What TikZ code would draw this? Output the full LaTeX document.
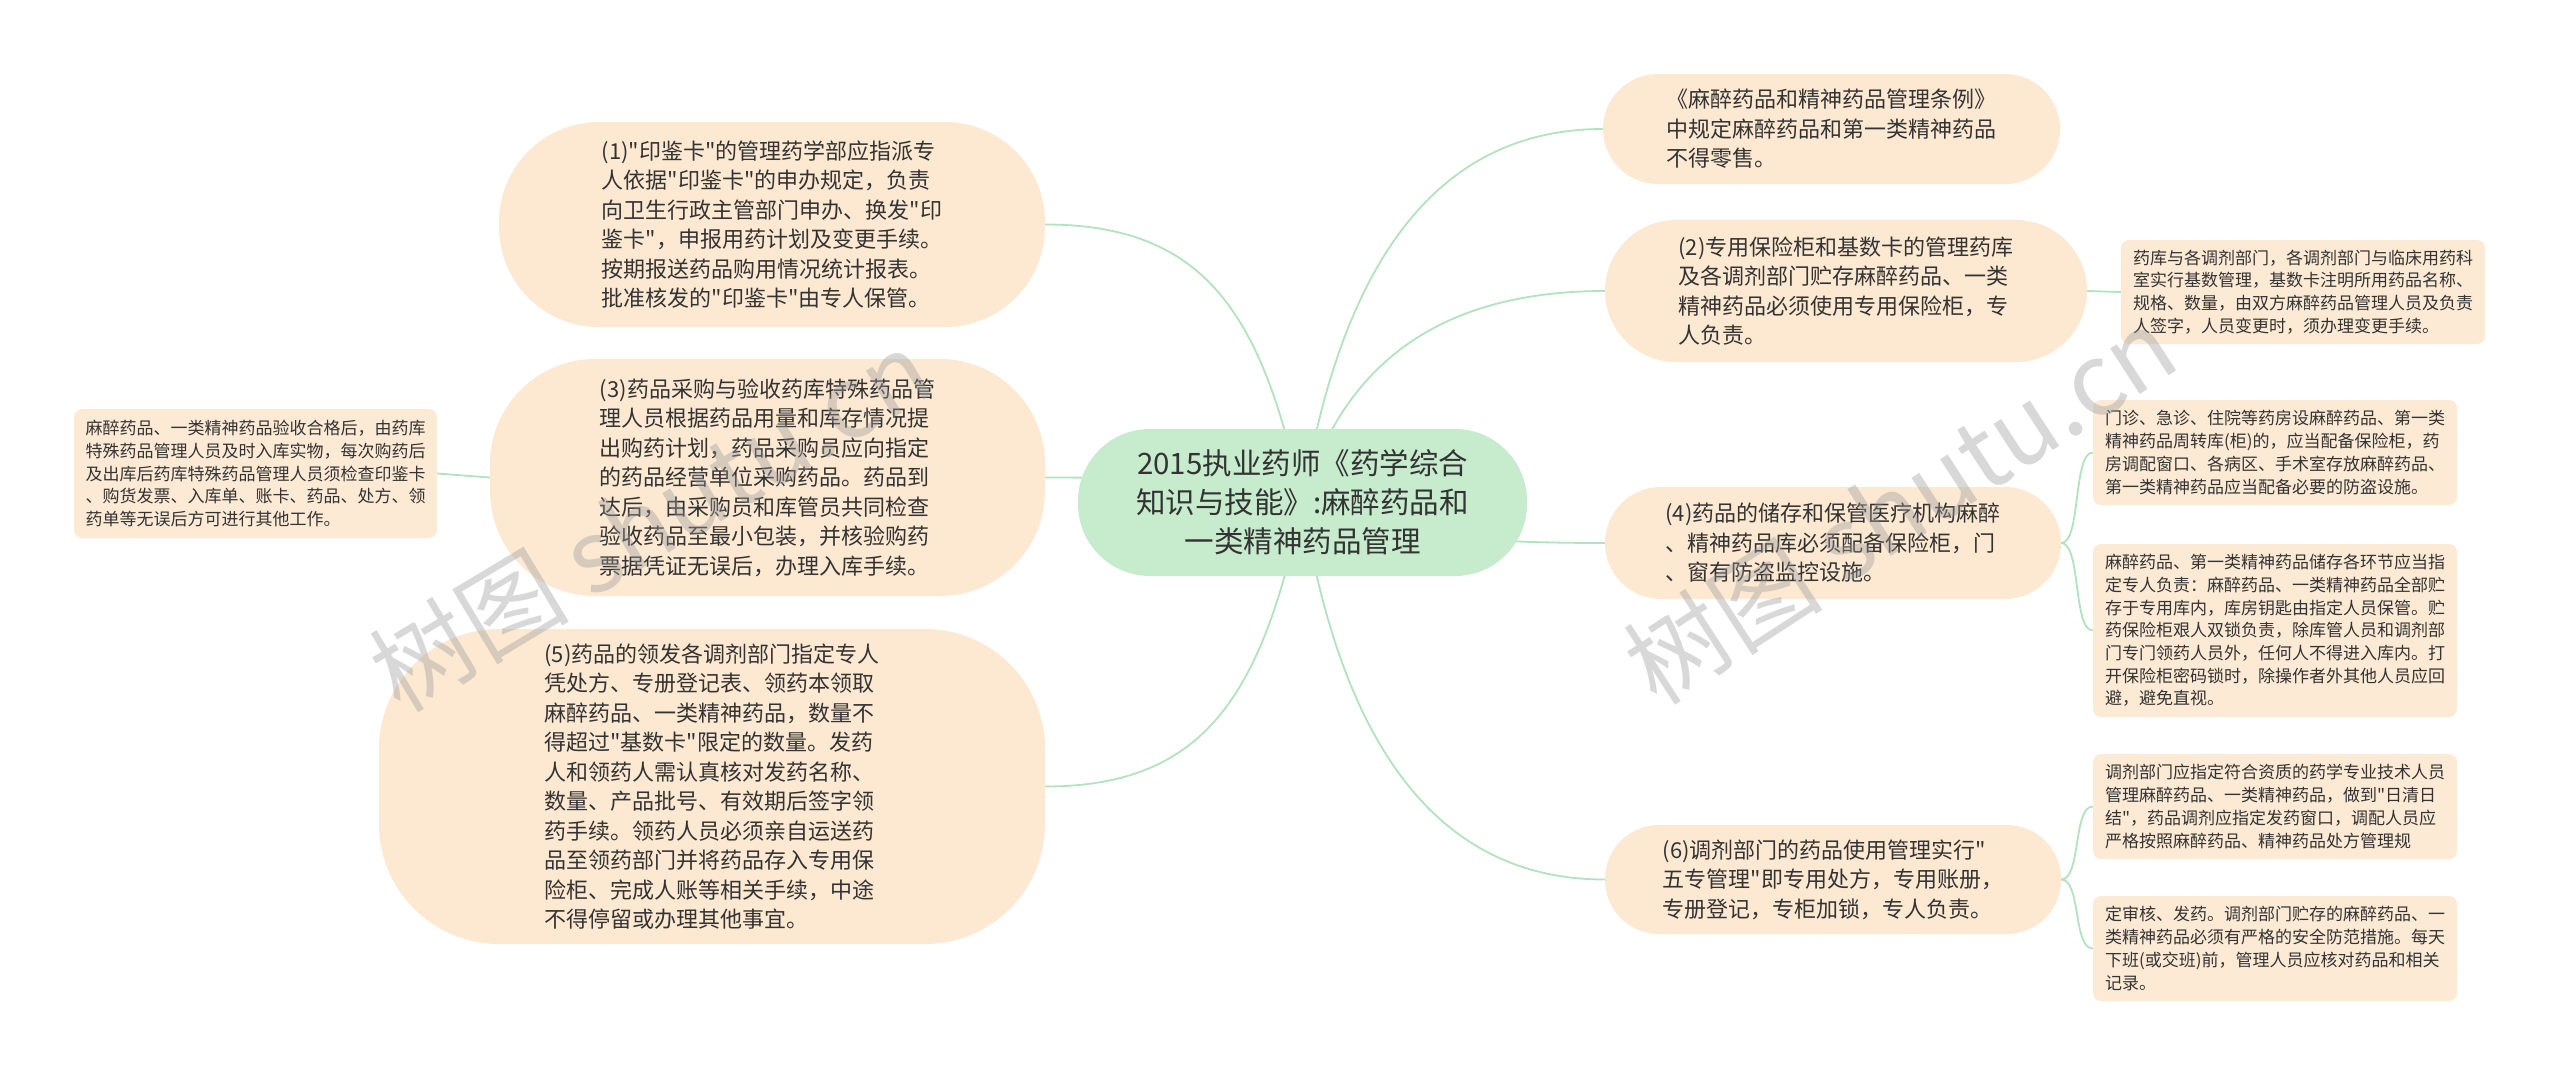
\documentclass[tikz,border=0pt]{standalone}
\usepackage{fontspec}
\setmainfont{Noto Sans CJK SC}[Ligatures=TeXOff]
\usetikzlibrary{backgrounds}
\definecolor{peach}{HTML}{FDE9D2}
\definecolor{leafpeach}{HTML}{FCEAD5}
\definecolor{rootgreen}{HTML}{C6EBCD}
\definecolor{linegreen}{HTML}{B3E2BE}
\definecolor{txt}{HTML}{333333}
\tikzset{
  lvone/.style={fill=peach, draw=none, align=left, text=txt, inner sep=0pt,
    font=\fontsize{22}{29.5}\selectfont},
  leafbox/.style={fill=leafpeach, draw=none, align=left, text=txt, inner sep=0pt,
    rounded corners=8pt, font=\fontsize{17}{22.7}\selectfont},
  rootbox/.style={fill=rootgreen, draw=none, align=center, text=txt, inner sep=0pt,
    rounded corners=72pt, font=\fontsize{29.5}{39}\selectfont},
  conn/.style={draw=linegreen, line width=1.8pt},
  wmark/.style={text=black!40, opacity=0.38, font=\fontsize{100}{100}\selectfont}
}
\begin{document}
\begin{tikzpicture}[x=1pt,y=-1pt]
\useasboundingbox (0,0) rectangle (2560,1077);

% root
\node[rootbox, minimum width=449pt, minimum height=147pt] (root) at (1302.5,502.5)
 {2015执业药师《药学综合\\知识与技能》:麻醉药品和\\一类精神药品管理};

% right level one
\node[lvone, minimum width=457pt, minimum height=110pt, rounded corners=55pt] (tr) at (1831.5,129)
 {《麻醉药品和精神药品管理条例》\\中规定麻醉药品和第一类精神药品\\不得零售。};
\node[lvone, minimum width=482pt, minimum height=142pt, rounded corners=71pt] (n2) at (1846,291)
 {(2)专用保险柜和基数卡的管理药库\\及各调剂部门贮存麻醉药品、一类\\精神药品必须使用专用保险柜，专\\人负责。};
\node[lvone, minimum width=456pt, minimum height=112pt, rounded corners=56pt] (n4) at (1833,543)
 {(4)药品的储存和保管医疗机构麻醉\\、精神药品库必须配备保险柜，门\\、窗有防盗监控设施。};
\node[lvone, minimum width=456pt, minimum height=109pt, rounded corners=54pt] (n6) at (1833,879.5)
 {(6)调剂部门的药品使用管理实行"\\五专管理"即专用处方，专用账册，\\专册登记，专柜加锁，专人负责。};

% left level one
\node[lvone, minimum width=546pt, minimum height=205pt, rounded corners=100pt] (n1) at (772,224.5)
 {(1)"印鉴卡"的管理药学部应指派专\\人依据"印鉴卡"的申办规定，负责\\向卫生行政主管部门申办、换发"印\\鉴卡"，申报用药计划及变更手续。\\按期报送药品购用情况统计报表。\\批准核发的"印鉴卡"由专人保管。};
\node[lvone, minimum width=555pt, minimum height=237pt, rounded corners=105pt] (n3) at (767.5,477.5)
 {(3)药品采购与验收药库特殊药品管\\理人员根据药品用量和库存情况提\\出购药计划，药品采购员应向指定\\的药品经营单位采购药品。药品到\\达后，由采购员和库管员共同检查\\验收药品至最小包装，并核验购药\\票据凭证无误后，办理入库手续。};
\node[lvone, minimum width=666pt, minimum height=315pt, rounded corners=120pt] (n5) at (712,786.5)
 {(5)药品的领发各调剂部门指定专人\\凭处方、专册登记表、领药本领取\\麻醉药品、一类精神药品，数量不\\得超过"基数卡"限定的数量。发药\\人和领药人需认真核对发药名称、\\数量、产品批号、有效期后签字领\\药手续。领药人员必须亲自运送药\\品至领药部门并将药品存入专用保\\险柜、完成人账等相关手续，中途\\不得停留或办理其他事宜。};

% leaves
\node[leafbox, minimum width=363pt, minimum height=129pt] (l0) at (255.5,473.5)
 {麻醉药品、一类精神药品验收合格后，由药库\\特殊药品管理人员及时入库实物，每次购药后\\及出库后药库特殊药品管理人员须检查印鉴卡\\、购货发票、入库单、账卡、药品、处方、领\\药单等无误后方可进行其他工作。};
\node[leafbox, minimum width=364pt, minimum height=104pt] (r1) at (2303,292)
 {药库与各调剂部门，各调剂部门与临床用药科\\室实行基数管理，基数卡注明所用药品名称、\\规格、数量，由双方麻醉药品管理人员及负责\\人签字，人员变更时，须办理变更手续。};
\node[leafbox, minimum width=364pt, minimum height=105pt] (r2) at (2275,452.5)
 {门诊、急诊、住院等药房设麻醉药品、第一类\\精神药品周转库(柜)的，应当配备保险柜，药\\房调配窗口、各病区、手术室存放麻醉药品、\\第一类精神药品应当配备必要的防盗设施。};
\node[leafbox, minimum width=364pt, minimum height=173pt] (r3) at (2275,630.5)
 {麻醉药品、第一类精神药品储存各环节应当指\\定专人负责：麻醉药品、一类精神药品全部贮\\存于专用库内，库房钥匙由指定人员保管。贮\\药保险柜艰人双锁负责，除库管人员和调剂部\\门专门领药人员外，任何人不得进入库内。打\\开保险柜密码锁时，除操作者外其他人员应回\\避，避免直视。};
\node[leafbox, minimum width=364pt, minimum height=105pt] (r4) at (2275,806.5)
 {调剂部门应指定符合资质的药学专业技术人员\\管理麻醉药品、一类精神药品，做到"日清日\\结"，药品调剂应指定发药窗口，调配人员应\\严格按照麻醉药品、精神药品处方管理规};
\node[leafbox, minimum width=364pt, minimum height=105pt] (r5) at (2275,948.5)
 {定审核、发药。调剂部门贮存的麻醉药品、一\\类精神药品必须有严格的安全防范措施。每天\\下班(或交班)前，管理人员应核对药品和相关\\记录。};

\begin{scope}[on background layer]
\fill[white] (0,0) rectangle (2560,1077);
\draw[conn] (root.center) .. controls +(40,-249) and +(-160,0) .. (tr.west);
\draw[conn] (root.center) .. controls +(40,-141) and +(-162,0) .. (n2.west);
\draw[conn] (root.center) .. controls +(40,27) and +(-162,0) .. (n4.west);
\draw[conn] (root.center) .. controls +(40,251) and +(-162,0) .. (n6.west);
\draw[conn] (root.center) .. controls +(-40,-186) and +(162,0) .. (n1.east);
\draw[conn] (root.center) .. controls +(-40,-17) and +(162,0) .. (n3.east);
\draw[conn] (root.center) .. controls +(-40,189) and +(162,0) .. (n5.east);
\draw[conn] (n3.west) -- (l0.east);
\draw[conn] (n2.east) -- (r1.west);
\draw[conn] (n4.east) .. controls +(20,0) and +(-20,0) .. (r2.west);
\draw[conn] (n4.east) .. controls +(20,0) and +(-20,0) .. (r3.west);
\draw[conn] (n6.east) .. controls +(20,0) and +(-20,0) .. (r4.west);
\draw[conn] (n6.east) .. controls +(20,0) and +(-20,0) .. (r5.west);
\end{scope}

% watermarks
\node[wmark, rotate=31] (wm1) at (650,520) {树图 shutu.cn};
\node[wmark, rotate=33] (wm2) at (1900,505) {树图 shutu.cn};
\end{tikzpicture}
\end{document}
